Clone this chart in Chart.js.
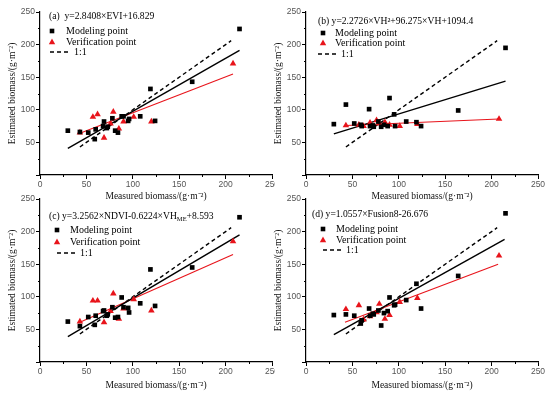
<!DOCTYPE html>
<html>
<head>
<meta charset="utf-8">
<script src="https://cdn.jsdelivr.net/npm/chart.js@4.4.1/dist/chart.umd.min.js"></script>
<style>
  body { margin: 0; background: #fff; }
  #page { position: relative; width: 550px; height: 393px; overflow: hidden; background: #fff; }
  .cell { position: absolute; overflow: hidden; }
</style>
</head>
<body>
<div id="page">
  <div class="cell" style="left:0;top:0;width:275px;height:204px"><canvas id="chartA" width="284" height="204"></canvas></div>
  <div class="cell" style="left:266px;top:0;width:284px;height:204px"><canvas id="chartB" width="284" height="204"></canvas></div>
  <div class="cell" style="left:0;top:190px;width:275px;height:203px"><canvas id="chartC" width="284" height="203"></canvas></div>
  <div class="cell" style="left:266px;top:190px;width:284px;height:203px"><canvas id="chartD" width="284" height="203"></canvas></div>
</div>
<script>
// measured biomass of the modeling and verification samples (same in all four panels)
var modelX = [30, 43, 52, 59, 60, 68, 69, 72, 73, 78, 81, 84, 88, 90, 95, 96, 108, 119, 124, 164, 215];
var verifX = [43, 57, 62, 69, 76, 79, 85, 90, 101, 120, 208];

// estimated biomass, panel (a) EVI
var modelA = [68, 66, 65, 55, 70, 75, 82, 72, 74, 87, 68, 65, 90, 90, 83, 86, 90, 132, 83, 143, 224];
var verifA = [65, 89, 93, 57, 79, 97, 71, 82, 89, 82, 171];
// panel (b) VH
var modelB = [78, 108, 79, 77, 75, 101, 75, 76, 74, 82, 74, 77, 75, 118, 93, 75, 82, 81, 75, 99, 195];
var verifB = [76, 77, 75, 80, 84, 79, 81, 77, 75, 78, 86];
// panel (c) NDVI + VH_ME
var modelC = [62, 55, 69, 57, 71, 78, 79, 71, 73, 84, 68, 69, 99, 84, 83, 76, 90, 142, 86, 145, 222];
var verifC = [62, 94, 94, 61, 78, 105, 66, 82, 96, 79, 185];
// panel (d) Fusion8
var modelD = [72, 73, 71, 59, 64, 82, 71, 74, 73, 79, 56, 75, 78, 99, 87, 88, 95, 120, 82, 132, 228];
var verifD = [81, 87, 65, 70, 76, 89, 66, 72, 92, 98, 163];

// fitted line end points [x0, y0, x1, y1]
var fitModelA = [30, 41, 215, 191];
var fitVerifA = [43, 64, 208, 155];
var fitModelB = [30, 63, 215, 144];
var fitVerifB = [43, 76, 208, 86];
var fitModelC = [30, 39, 215, 195];
var fitVerifC = [43, 61, 208, 165];
var fitModelD = [30, 42, 214, 188];
var fitVerifD = [42, 61, 207, 150];
var oneToOne = [43, 43, 206, 206];

var axisTicks = [0, 50, 100, 150, 200, 250];
var minorTicks = [25, 75, 125, 175, 225];

var serif = '"Liberation Serif", "Times New Roman", serif';
var sans = '"Liberation Sans", Arial, sans-serif';

function pts(xs, ys) {
  return xs.map(function(x, i){ return {x: x, y: ys[i]}; });
}
function seg(f) {
  return [{x: f[0], y: f[1]}, {x: f[2], y: f[3]}];
}

var innerLegend = {
  id: 'innerLegend',
  afterDatasetsDraw: function(chart, args, o) {
    var ctx = chart.ctx, a = chart.chartArea, p = o.pos;
    ctx.save();
    // short minor ticks
    ctx.strokeStyle = '#000';
    ctx.lineWidth = 1;
    ctx.beginPath();
    minorTicks.forEach(function(v){
      var px = Math.round(chart.scales.x.getPixelForValue(v)) + 0.5;
      ctx.moveTo(px, a.bottom); ctx.lineTo(px, a.bottom + 2);
      var py = Math.round(chart.scales.y.getPixelForValue(v)) + 0.5;
      ctx.moveTo(a.left, py); ctx.lineTo(a.left - 2, py);
    });
    ctx.stroke();

    ctx.fillStyle = '#000';
    ctx.textBaseline = 'middle';
    // equation header, pieces may be subscripts
    var x = a.left + p.hx, y = a.top + p.hy;
    o.header.forEach(function(part){
      if (part.sub) {
        ctx.font = '6.5px ' + serif;
        ctx.fillText(part.t, x, y + 3);
      } else {
        ctx.font = '9.6px ' + serif;
        ctx.fillText(part.t, x, y);
      }
      x += ctx.measureText(part.t).width;
    });
    ctx.font = '10px ' + serif;
    var mx = a.left + p.mx;
    // modeling point
    ctx.fillRect(mx - 2.3, a.top + p.my[0] - 2.3, 4.6, 4.6);
    ctx.fillText('Modeling point', a.left + p.tx, a.top + p.my[0]);
    // verification point
    ctx.fillStyle = '#e8141b';
    var ty = a.top + p.my[1];
    ctx.beginPath();
    ctx.moveTo(mx, ty - 3.4);
    ctx.lineTo(mx + 3.2, ty + 2.2);
    ctx.lineTo(mx - 3.2, ty + 2.2);
    ctx.closePath();
    ctx.fill();
    ctx.fillStyle = '#000';
    ctx.fillText('Verification point', a.left + p.tx, a.top + p.my[1]);
    // 1:1
    ctx.lineWidth = 1.3;
    ctx.setLineDash([4, 3]);
    ctx.beginPath();
    ctx.moveTo(a.left + p.dx0, a.top + p.my[2]);
    ctx.lineTo(a.left + p.dx1, a.top + p.my[2]);
    ctx.stroke();
    ctx.setLineDash([]);
    ctx.fillText('1:1', a.left + p.dtx, a.top + p.my[2]);
    ctx.restore();
  }
};

function majorOnly(c) {
  return axisTicks.indexOf(c.tick.value) >= 0 ? '#000' : 'rgba(0,0,0,0)';
}

function makePanel(id, modY, verY, fitM, fitV, header, pos, topPad, xHeight, titlePad) {
  var ctx = document.getElementById(id);
  return new Chart(ctx, {
    type: 'scatter',
    data: {
      datasets: [
        { label: 'Modeling point', data: pts(modelX, modY), pointStyle: 'rect', pointRadius: 3.3,
          backgroundColor: '#000', borderColor: '#000', borderWidth: 0 },
        { label: 'Verification point', data: pts(verifX, verY), pointStyle: 'triangle', pointRadius: 3.8,
          backgroundColor: '#e8141b', borderColor: '#e8141b', borderWidth: 0 },
        { label: 'fit model', data: seg(fitM), showLine: true, pointRadius: 0,
          borderColor: '#000', borderWidth: 1.4 },
        { label: 'fit verification', data: seg(fitV), showLine: true, pointRadius: 0,
          borderColor: '#e8141b', borderWidth: 1.1 },
        { label: '1:1', data: seg(oneToOne), showLine: true, pointRadius: 0,
          borderColor: '#000', borderWidth: 1.4, borderDash: [4, 3] }
      ]
    },
    options: {
      responsive: false,
      animation: false,
      layout: { padding: { top: topPad, right: 12, left: 0, bottom: 0 } },
      plugins: {
        legend: { display: false },
        tooltip: { enabled: false },
        innerLegend: { header: header, pos: pos }
      },
      scales: {
        x: {
          type: 'linear', min: 0, max: 250,
          afterFit: function(s){ s.height = xHeight; s.paddingLeft = 0; s.paddingRight = 0; },
          border: { display: true, color: '#000', width: 1.2 },
          grid: { drawOnChartArea: false, drawTicks: true, tickLength: 4, tickColor: majorOnly },
          ticks: { stepSize: 25, padding: 1, color: '#555', font: { family: sans, size: 8.5 },
            maxRotation: 0, autoSkip: false,
            callback: function(v){ return axisTicks.indexOf(v) >= 0 ? v : ''; } },
          title: { display: true, text: 'Measured biomass/(g·m⁻²)', color: '#111',
            font: { family: serif, size: 9.5 }, padding: { top: 0, bottom: titlePad } }
        },
        y: {
          type: 'linear', min: 0, max: 250,
          afterFit: function(s){ s.width = 40; s.paddingTop = 0; s.paddingBottom = 0; },
          border: { display: true, color: '#000', width: 1.2 },
          grid: { drawOnChartArea: false, drawTicks: true, tickLength: 4, tickColor: majorOnly },
          ticks: { stepSize: 25, padding: 1, color: '#555', font: { family: sans, size: 8.5 },
            autoSkip: false,
            callback: function(v){ return (v !== 0 && axisTicks.indexOf(v) >= 0) ? v : ''; } },
          title: { display: true, text: 'Estimated biomass/(g·m⁻²)', color: '#111',
            font: { family: serif, size: 9.5 }, padding: { top: 7, bottom: 0 } }
        }
      }
    },
    plugins: [innerLegend]
  });
}

makePanel('chartA', modelA, verifA, fitModelA, fitVerifA,
  [{t: '(a)  y=2.8408×EVI+16.829'}],
  {hx: 9, hy: 4, mx: 12, my: [19, 30, 40], tx: 26, dx0: 10, dx1: 31, dtx: 34},
  12, 29, 1.5);

makePanel('chartB', modelB, verifB, fitModelB, fitVerifB,
  [{t: '(b) y=2.2726×VH²+96.275×VH+1094.4'}],
  {hx: 12, hy: 9, mx: 17, my: [21, 31, 42], tx: 29, dx0: 12, dx1: 32, dtx: 35},
  12, 29, 1.5);

makePanel('chartC', modelC, verifC, fitModelC, fitVerifC,
  [{t: '(c) y=3.2562×NDVI-0.6224×VH'}, {t: 'ME', sub: true}, {t: '+8.593'}],
  {hx: 9, hy: 17, mx: 17, my: [31, 43, 54], tx: 30, dx0: 17, dx1: 35, dtx: 40},
  9, 31, 2.3);

makePanel('chartD', modelD, verifD, fitModelD, fitVerifD,
  [{t: '(d) y=1.0557×Fusion8-26.676'}],
  {hx: 6, hy: 15, mx: 17, my: [30, 41, 51], tx: 30, dx0: 17, dx1: 37, dtx: 40},
  9, 31, 2.3);
</script>
</body>
</html>
